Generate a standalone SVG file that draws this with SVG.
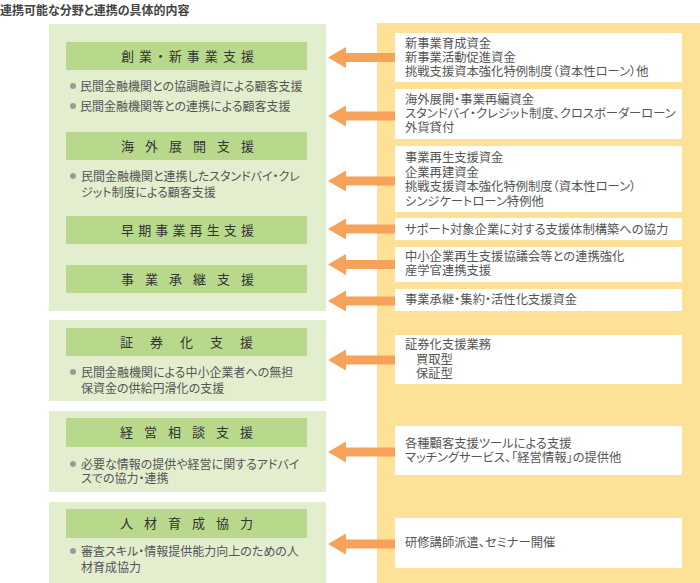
<svg xmlns="http://www.w3.org/2000/svg" width="700" height="583" viewBox="0 0 700 583">
<defs>
<style>
text{font-family:"Noto Sans CJK JP","Noto Sans",sans-serif;font-feature-settings:"palt";}
.title{font-size:12px;font-weight:bold;fill:#444;}
.panel{fill:#e3eecf;}
.bar{fill:#b8d88c;}
.head{font-size:13px;fill:#333;}
.bul{font-size:12px;fill:#555;}
.dot{fill:#9a9a9a;}
.box{fill:#ffffff;}
.rt{font-size:12.3px;fill:#555;}
.arr{fill:#f6a25a;}
</style>
</defs>
<rect width="700" height="583" fill="#ffffff"/>
<text class="title" x="0" y="14.5">連携可能な分野と連携の具体的内容</text>

<g id="yellow-panel"><rect x="377" y="23" width="323" height="560" fill="#fde196"/></g>

<g id="panel-1">
<rect class="panel" x="49" y="24" width="277" height="287"/>
<rect class="bar" x="66" y="42" width="241" height="28"/>
<text class="head" x="121" y="60.5" textLength="133" lengthAdjust="spacing">創業・新事業支援</text>
<circle class="dot" cx="73" cy="86" r="3"/>
<text class="bul" x="80" y="90.5">民間金融機関との協調融資による顧客支援</text>
<circle class="dot" cx="73" cy="106" r="3"/>
<text class="bul" x="80" y="110.5">民間金融機関等との連携による顧客支援</text>
<rect class="bar" x="66" y="132" width="241" height="28"/>
<text class="head" x="121" y="150.5" textLength="133" lengthAdjust="spacing">海外展開支援</text>
<circle class="dot" cx="73" cy="176" r="3"/>
<text class="bul"><tspan x="81" y="180.5">民間金融機関と連携したスタンドバイ・クレ</tspan><tspan x="81" y="196.5">ジット制度による顧客支援</tspan></text>
<rect class="bar" x="66" y="216" width="241" height="28"/>
<text class="head" x="121" y="234.5" textLength="133" lengthAdjust="spacing">早期事業再生支援</text>
<rect class="bar" x="66" y="265" width="241" height="28"/>
<text class="head" x="121" y="283.5" textLength="133" lengthAdjust="spacing">事業承継支援</text>
</g>

<g id="panel-2">
<rect class="panel" x="49" y="320" width="277" height="81"/>
<rect class="bar" x="66" y="328" width="241" height="28"/>
<text class="head" x="120" y="346.5" textLength="133" lengthAdjust="spacing">証券化支援</text>
<circle class="dot" cx="73" cy="372" r="3"/>
<text class="bul"><tspan x="81" y="376.5">民間金融機関による中小企業者への無担</tspan><tspan x="81" y="392.5">保資金の供給円滑化の支援</tspan></text>
</g>

<g id="panel-3">
<rect class="panel" x="49" y="411" width="277" height="81"/>
<rect class="bar" x="66" y="418" width="241" height="29"/>
<text class="head" x="120" y="437" textLength="133" lengthAdjust="spacing">経営相談支援</text>
<circle class="dot" cx="73" cy="464" r="3"/>
<text class="bul"><tspan x="81" y="468.5">必要な情報の提供や経営に関するアドバイ</tspan><tspan x="81" y="483">スでの協力・連携</tspan></text>
</g>

<g id="panel-4">
<rect class="panel" x="49" y="502" width="277" height="81"/>
<rect class="bar" x="66" y="509" width="241" height="29"/>
<text class="head" x="120" y="528" textLength="133" lengthAdjust="spacing">人材育成協力</text>
<circle class="dot" cx="73" cy="551" r="3"/>
<text class="bul"><tspan x="81" y="555.5">審査スキル・情報提供能力向上のための人</tspan><tspan x="81" y="571.5">材育成協力</tspan></text>
</g>

<g id="box-1"><rect class="box" x="395" y="33" width="287" height="49"/>
<text class="rt"><tspan x="405" y="48">新事業育成資金</tspan><tspan x="405" y="62">新事業活動促進資金</tspan><tspan x="405" y="76">挑戦支援資本強化特例制度（資本性ローン）他</tspan></text></g>

<g id="box-2"><rect class="box" x="395" y="89" width="287" height="50"/>
<text class="rt"><tspan x="405" y="104">海外展開・事業再編資金</tspan><tspan x="405" y="118">スタンドバイ・クレジット制度、クロスボーダーローン</tspan><tspan x="405" y="132">外貨貸付</tspan></text></g>

<g id="box-3"><rect class="box" x="395" y="146" width="287" height="66"/>
<text class="rt"><tspan x="405" y="162">事業再生支援資金</tspan><tspan x="405" y="176.5">企業再建資金</tspan><tspan x="405" y="191">挑戦支援資本強化特例制度（資本性ローン）</tspan><tspan x="405" y="205.5">シンジケートローン特例他</tspan></text></g>

<g id="box-4"><rect class="box" x="395" y="218" width="287" height="22"/>
<text class="rt" x="405" y="234">サポート対象企業に対する支援体制構築への協力</text></g>

<g id="box-5"><rect class="box" x="395" y="247" width="287" height="35"/>
<text class="rt"><tspan x="405" y="261">中小企業再生支援協議会等との連携強化</tspan><tspan x="405" y="275">産学官連携支援</tspan></text></g>

<g id="box-6"><rect class="box" x="395" y="289" width="287" height="22"/>
<text class="rt" x="405" y="304">事業承継・集約・活性化支援資金</text></g>

<g id="box-7"><rect class="box" x="395" y="335" width="287" height="49"/>
<text class="rt"><tspan x="405" y="349">証券化支援業務</tspan><tspan x="416" y="364">買取型</tspan><tspan x="416" y="378">保証型</tspan></text></g>

<g id="box-8"><rect class="box" x="395" y="426" width="287" height="49"/>
<text class="rt"><tspan x="405" y="448">各種顧客支援ツールによる支援</tspan><tspan x="405" y="462">マッチングサービス、「経営情報」の提供他</tspan></text></g>

<g id="box-9"><rect class="box" x="395" y="518" width="287" height="50"/>
<text class="rt" x="405" y="547">研修講師派遣、セミナー開催</text></g>

<g id="connectors">
<path class="arr" d="M328,57.5 L346,47 L346,53 L395,53 L395,62 L346,62 L346,68 Z"/>
<path class="arr" d="M328,116 L346,105.5 L346,111.5 L395,111.5 L395,120.5 L346,120.5 L346,126.5 Z"/>
<path class="arr" d="M328,181 L346,170.5 L346,176.5 L395,176.5 L395,185.5 L346,185.5 L346,191.5 Z"/>
<path class="arr" d="M328,229 L346,218.5 L346,224.5 L395,224.5 L395,233.5 L346,233.5 L346,239.5 Z"/>
<path class="arr" d="M328,264.5 L346,254 L346,260 L395,260 L395,269 L346,269 L346,275 Z"/>
<path class="arr" d="M328,301 L346,290.5 L346,296.5 L395,296.5 L395,305.5 L346,305.5 L346,311.5 Z"/>
<path class="arr" d="M328,360 L346,349.5 L346,355.5 L395,355.5 L395,364.5 L346,364.5 L346,370.5 Z"/>
<path class="arr" d="M328,452 L346,441.5 L346,447.5 L395,447.5 L395,456.5 L346,456.5 L346,462.5 Z"/>
<path class="arr" d="M328,544 L346,533.5 L346,539.5 L395,539.5 L395,548.5 L346,548.5 L346,554.5 Z"/>
</g>
</svg>
